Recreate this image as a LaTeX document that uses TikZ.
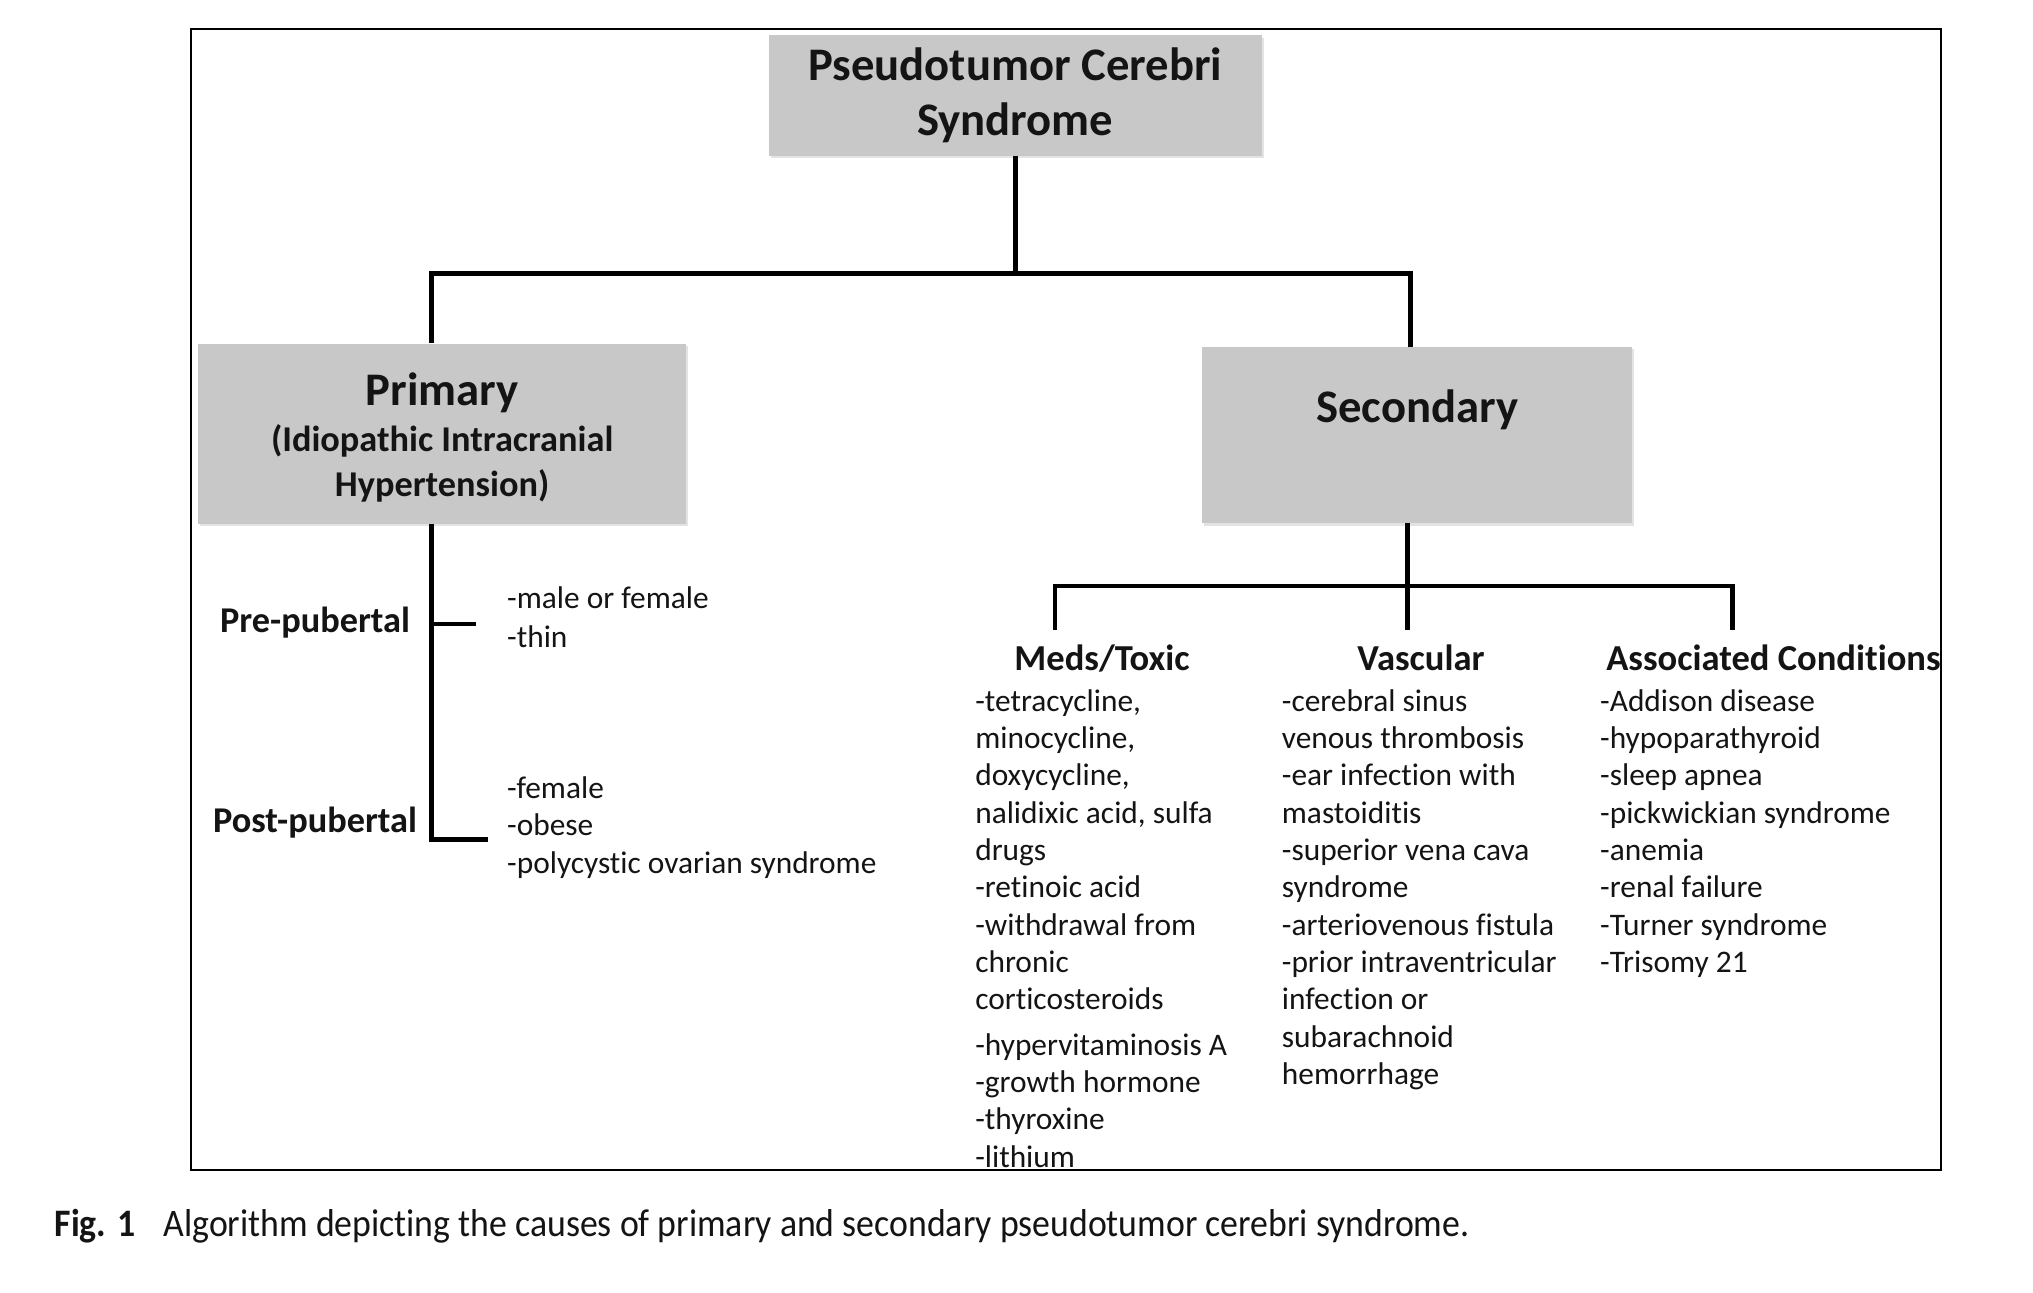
\documentclass[tikz,border=0pt]{standalone}
\usepackage{fontspec}
\setmainfont[Ligatures=NoCommon]{Carlito}
\newfontfamily\capfont[FakeStretch=0.92,Ligatures=NoCommon]{Carlito}
\usetikzlibrary{shadows}
\definecolor{boxgray}{RGB}{200,200,200}
\definecolor{ink}{RGB}{20,20,20}
\begin{document}
\begin{tikzpicture}[x=1pt,y=-1pt,
  graybox/.style={fill=boxgray,draw=none,inner sep=0pt,
    drop shadow={shadow xshift=1.5pt,shadow yshift=-2pt,opacity=0.22}},
  lbl/.style={anchor=base,inner sep=0pt,text=ink},
  titlefont/.style={font=\fontsize{36}{40}\selectfont\bfseries},
  subfont/.style={font=\fontsize{28}{30}\selectfont\bfseries},
  headfont/.style={font=\fontsize{28.2}{30}\selectfont\bfseries},
  conn/.style={draw=black,line width=3.6pt,line join=miter},
  lst/.style={anchor=north west,inner sep=0pt,align=left,text=ink},
]
\path[use as bounding box,fill=white] (0,0) rectangle (1568,996.5);

% boxes
\node[graybox,minimum width=380pt,minimum height=93pt] (top) at (783,73.5) {};
\node[graybox,minimum width=376pt,minimum height=139pt] (prim) at (341,334.5) {};
\node[graybox,minimum width=332pt,minimum height=136pt] (sec) at (1093,335.5) {};

% box labels
\node[lbl,titlefont] (t1) at (783,62) {Pseudotumor Cerebri};
\node[lbl,titlefont] (t2) at (783,104.5) {Syndrome};
\node[lbl,titlefont] (p1) at (341,312.4) {Primary};
\node[lbl,subfont] (p2) at (341,348.5) {(Idiopathic Intracranial};
\node[lbl,subfont] (p3) at (341,383) {Hypertension)};
\node[lbl,titlefont] (s1) at (1093,325.5) {Secondary};

% top connectors
\coordinate (jtop) at (783,211);
\draw[conn] (top.south) -- (jtop);
\draw[conn] ([xshift=-8pt]prim.north) |- (jtop) -| ([xshift=-5pt]sec.north);

% primary branch
\coordinate (postend) at (376.4,647.4);
\coordinate (prejoin) at (333,481.3);
\coordinate (pretick) at (367.1,481.3);
\draw[conn] ([xshift=-8pt]prim.south) |- (postend);
\draw[conn] (prejoin) -- (pretick);

\node[lbl,subfont] (pre) at (243,487.5) {Pre-pubertal};
\node[lbl,subfont] (post) at (243,641.8) {Post-pubertal};
\node[lst,font=\fontsize{24.2}{30}\selectfont] (prelist) at (391,448.2)
  {\strut-male or female\\-thin};
\node[lst,font=\fontsize{24.2}{29}\selectfont] (postlist) at (391,595.2)
  {\strut-female\\-obese\\-polycystic ovarian syndrome};

% secondary branch
\coordinate (sj) at (1085.7,452);
\coordinate (mtop) at (813.7,486);
\coordinate (vtop) at (1085.7,486);
\coordinate (atop) at (1336.4,486);
\draw[conn] ([xshift=-7.3pt]sec.south) -- (vtop);
\draw[conn] (mtop) -- (mtop |- sj) -- (atop |- sj) -- (atop);

\node[lbl,headfont] (hm) at (850,517) {Meds/Toxic};
\node[lbl,headfont] (hv) at (1096,517) {Vascular};
\node[lbl,headfont,anchor=base west] (ha) at (1238.7,517) {Associated Conditions};

\node[lst,font=\fontsize{24.2}{28.8}\selectfont] (meds) at (752,528.2)
  {\strut-tetracycline,\\minocycline,\\doxycycline,\\nalidixic acid, sulfa\\drugs\\-retinoic acid\\-withdrawal from\\chronic\\corticosteroids\\[6pt]-hypervitaminosis A\\-growth hormone\\-thyroxine\\-lithium};
\node[lst,font=\fontsize{24.2}{28.8}\selectfont] (vasc) at (988.5,528.2)
  {\strut-cerebral sinus\\venous thrombosis\\-ear infection with\\mastoiditis\\-superior vena cava\\syndrome\\-arteriovenous fistula\\-prior intraventricular\\infection or\\subarachnoid\\hemorrhage};
\node[lst,font=\fontsize{24.2}{28.8}\selectfont] (assoc) at (1234,528.2)
  {\strut-Addison disease\\-hypoparathyroid\\-sleep apnea\\-pickwickian syndrome\\-anemia\\-renal failure\\-Turner syndrome\\-Trisomy 21};

% frame
\node[draw=black,line width=1.5pt,inner sep=0pt,minimum width=1350pt,minimum height=880.4pt] (frame) at (822,462.2) {};

% caption
\node[lbl,anchor=base west,font=\capfont\fontsize{30}{32}\selectfont\bfseries] (fig) at (41.9,953.8) {Fig. 1};
\node[lbl,anchor=base west,font=\capfont\fontsize{30}{32}\selectfont] (cap) at (125.9,953.8) {Algorithm depicting the causes of primary and secondary pseudotumor cerebri syndrome.};
\end{tikzpicture}
\end{document}
